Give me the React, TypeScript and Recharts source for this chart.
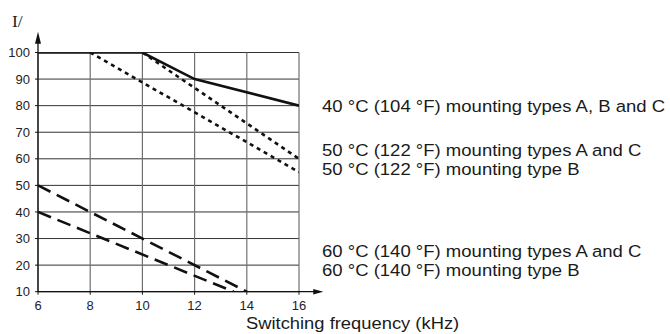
import React from 'react';
import { LineChart, Line, XAxis, YAxis, CartesianGrid, ReferenceLine } from 'recharts';

// ---- data ----
const xTicks = [6, 8, 10, 12, 14, 16];
const yTicks = [10, 20, 30, 40, 50, 60, 70, 80, 90, 100];

const freq40 = [6, 10, 12, 16];
const curr40 = [100, 100, 90, 80];
const freq50AC = [10, 16];
const curr50AC = [100, 60];
const freq50B = [8, 16];
const curr50B = [100, 55];
const freq60AC = [6, 14];
const curr60AC = [50, 10];
const freq60B = [6, 13.5];
const curr60B = [40, 10];

const seriesLabels = [
  '40 °C (104 °F) mounting types A, B and C',
  '50 °C (122 °F) mounting types A and C',
  '50 °C (122 °F) mounting type B',
  '60 °C (140 °F) mounting types A and C',
  '60 °C (140 °F) mounting type B',
];
const yAxisTitle = 'I/';
const xAxisTitle = 'Switching frequency (kHz)';

// axis extents (data space) for arrowed axes
const xAxisEnd = 16.93;
const yAxisEnd = 107.8;

// ---- layout ----
const W = 670;
const H = 334;
const labelY = [105.5, 149.5, 168.5, 251, 270];
const labelX = 322;
const SANS = '"Liberation Sans", Arial, sans-serif';
const INK = '#111';

const toPoints = (xs: number[], ys: number[]) => xs.map((f, k) => ({ f, v: ys[k] }));

const YArrow = (p: any) => {
  const { x1, y1, x2, y2 } = p;
  return (
    <g>
      <line x1={x1} y1={y1} x2={x2} y2={y2 + 8} stroke={INK} strokeWidth={1.3} />
      <polygon points={`${x2},${y2} ${x2 - 3},${y2 + 12} ${x2 + 3},${y2 + 12}`} fill={INK} />
    </g>
  );
};

const XArrow = (p: any) => {
  const { x1, y1, x2, y2 } = p;
  return (
    <g>
      <line x1={x1} y1={y1} x2={x2 - 6} y2={y2} stroke={INK} strokeWidth={1.3} />
      <polygon points={`${x2},${y2} ${x2 - 10},${y2 - 2.7} ${x2 - 10},${y2 + 2.7}`} fill={INK} />
    </g>
  );
};

const stretch = (x: number, s: number) => `translate(${x},0) scale(${s},1) translate(${-x},0)`;

const tickStyle = { fill: '#222', fontSize: 13, fontFamily: SANS };

export default function App() {
  return (
    <div style={{ position: 'absolute', left: 0, top: 0, width: W, height: H, background: '#fff' }}>
      <LineChart
        width={W}
        height={H}
        margin={{ top: 52.5, right: 371, bottom: 22.3, left: 8 }}
      >
        <CartesianGrid horizontal={true} vertical={false} stroke="#333" strokeWidth={1} />
        <CartesianGrid horizontal={false} vertical={true} stroke="#707070" strokeWidth={1.2} />
        <XAxis
          dataKey="f"
          type="number"
          domain={[6, 16]}
          ticks={xTicks}
          allowDataOverflow
          axisLine={false}
          tickLine={{ stroke: INK }}
          tickSize={3}
          tickMargin={6}
          height={20}
          tick={tickStyle}
        />
        <YAxis
          type="number"
          domain={[10, 100]}
          ticks={yTicks}
          allowDataOverflow
          axisLine={false}
          tickLine={{ stroke: INK }}
          tickSize={3}
          tickMargin={5}
          width={30}
          tick={tickStyle}
        />
        <ReferenceLine
          segment={[{ x: 6, y: 10 }, { x: 6, y: yAxisEnd }]}
          ifOverflow="visible"
          shape={YArrow}
        />
        <ReferenceLine
          segment={[{ x: 6, y: 10 }, { x: xAxisEnd, y: 10 }]}
          ifOverflow="visible"
          shape={XArrow}
        />
        <Line data={toPoints(freq40, curr40)} dataKey="v" stroke={INK} strokeWidth={2.6} dot={false} isAnimationActive={false} />
        <Line data={toPoints(freq50AC, curr50AC)} dataKey="v" stroke={INK} strokeWidth={2.6} strokeDasharray="4 4" dot={false} isAnimationActive={false} />
        <Line data={toPoints(freq50B, curr50B)} dataKey="v" stroke={INK} strokeWidth={2.6} strokeDasharray="4 4" dot={false} isAnimationActive={false} />
        <Line data={toPoints(freq60AC, curr60AC)} dataKey="v" stroke={INK} strokeWidth={2.6} strokeDasharray="14 7" dot={false} isAnimationActive={false} />
        <Line data={toPoints(freq60B, curr60B)} dataKey="v" stroke={INK} strokeWidth={2.6} strokeDasharray="14 7" dot={false} isAnimationActive={false} />
      </LineChart>
      <svg width={W} height={H} style={{ position: 'absolute', left: 0, top: 0, pointerEvents: 'none' }}>
        <text x={12} y={26.7} fontFamily='"Liberation Serif", "Times New Roman", serif' fontSize={17.5} fill="#222">
          {yAxisTitle}
        </text>
        {seriesLabels.map((t, k) => (
          <text
            key={k}
            x={labelX}
            y={labelY[k]}
            dy="0.355em"
            fontFamily={SANS}
            fontSize={17}
            fill="#1a1a1a"
            transform={stretch(labelX, 1.09)}
          >
            {t}
          </text>
        ))}
        <text x={246} y={328.7} fontFamily={SANS} fontSize={17} fill="#1a1a1a" transform={stretch(246, 1.08)}>
          {xAxisTitle}
        </text>
      </svg>
    </div>
  );
}
